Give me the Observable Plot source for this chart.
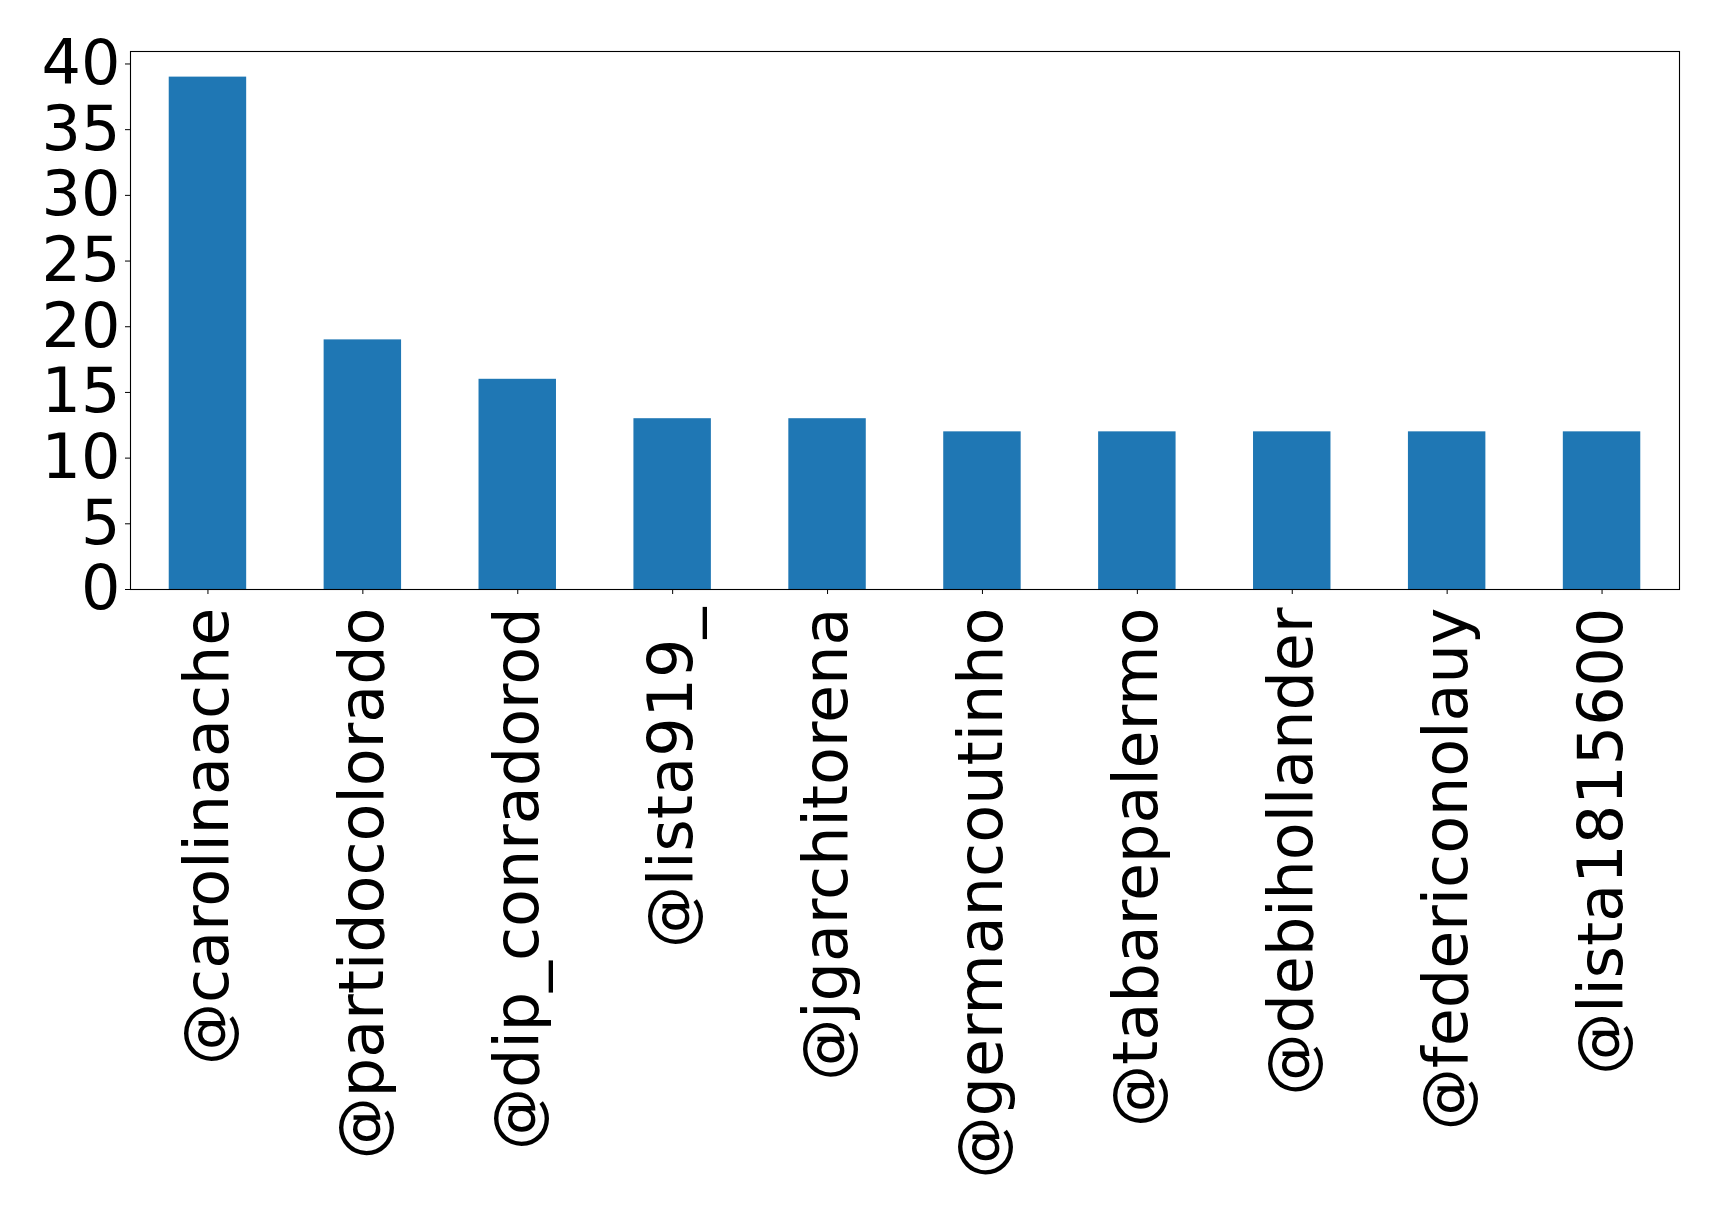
<!DOCTYPE html>
<html>
<head>
<meta charset="utf-8">
<script src="https://cdn.jsdelivr.net/npm/d3@7"></script>
<script src="https://cdn.jsdelivr.net/npm/@observablehq/plot@0.6"></script>
<style>
  html, body { margin: 0; padding: 0; background: #fff; }
  #chart svg { display: block; }
</style>
</head>
<body>
<div id="chart"></div>
<script>
// Accounts and their mention counts
const accounts = [
  "@carolinaache", "@partidocolorado", "@dip_conradorod", "@lista919_",
  "@jgarchitorena", "@germancoutinho", "@tabarepalermo", "@debihollander",
  "@federiconolauy", "@lista1815600"
];
const counts = [39, 19, 16, 13, 13, 12, 12, 12, 12, 12];
const yTicks = [0, 5, 10, 15, 20, 25, 30, 35, 40];

const data = accounts.map((name, i) => ({name, count: counts[i]}));

const FS = 62;

const chart = Plot.plot({
  width: 1719,
  height: 1214,
  marginLeft: 130,
  marginRight: 40,
  marginTop: 51,
  marginBottom: 625,
  style: {fontFamily: "DejaVu Sans", fontSize: FS + "px", color: "#000", background: "#fff"},
  x: {type: "band", domain: accounts, paddingInner: 0.5, paddingOuter: 0.25, round: false},
  y: {domain: [0, 40.95]},
  marks: [
    Plot.barY(data, {x: "name", y: "count", fill: "#1f77b4"}),
    Plot.axisY({ticks: yTicks, tickSize: 5, tickPadding: 5, fontSize: FS, label: null, stroke: "#000"}),
    Plot.axisX({tickSize: 5, tickPadding: 13, tickRotate: -90, fontSize: FS, label: null, stroke: "#000"}),
    Plot.frame({stroke: "#000", strokeWidth: 1.1})
  ]
});

document.getElementById("chart").appendChild(chart);
</script>
</body>
</html>
